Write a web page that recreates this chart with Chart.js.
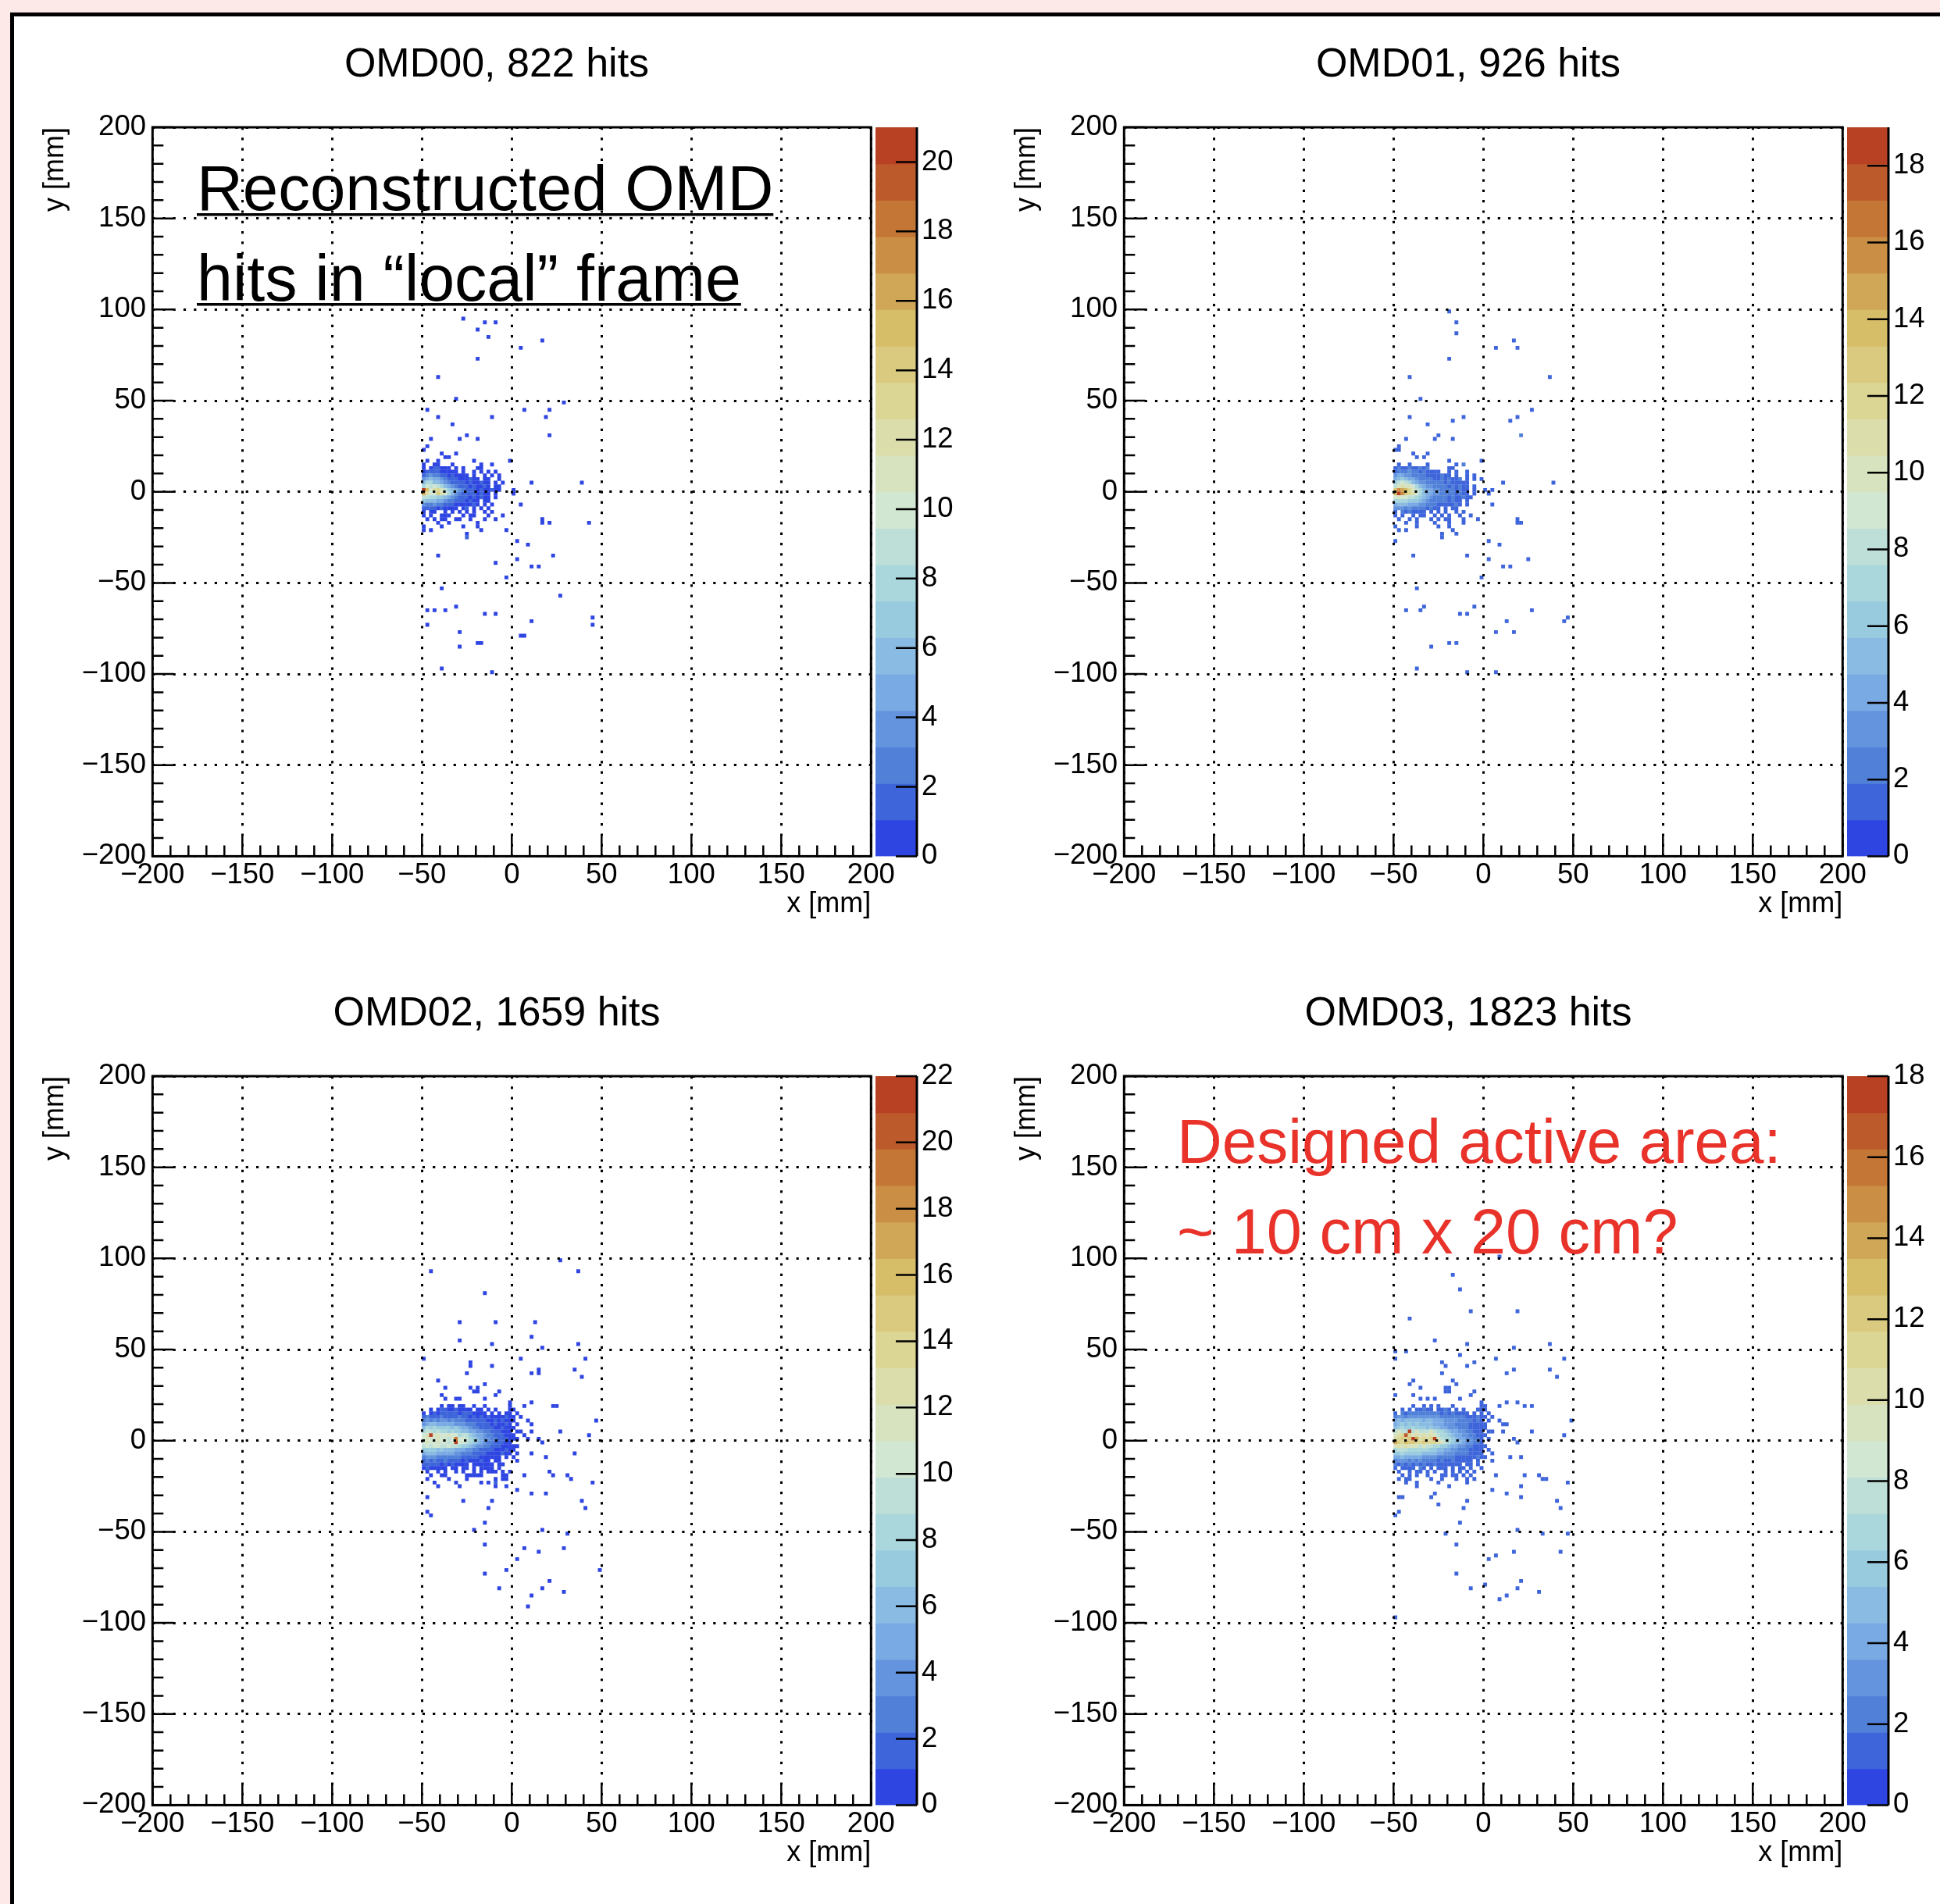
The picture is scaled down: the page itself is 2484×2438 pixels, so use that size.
<!DOCTYPE html>
<html>
<head>
<meta charset="utf-8">
<script src="https://cdn.jsdelivr.net/npm/chart.js@4.4.1/dist/chart.umd.min.js"></script>
<style>
  html, body { margin: 0; padding: 0; width: 2484px; height: 2438px; overflow: hidden; background: #fdeae8; }
  #frame { position: absolute; left: 13px; top: 16px; width: 2700px; height: 2700px; background: #fff;
           border-left: 5px solid #000; border-top: 5px solid #000; }
  canvas { position: absolute; }
</style>
</head>
<body>
<div id="frame"></div>
<canvas id="c0" width="1244" height="1215" style="left:14px;top:20px"></canvas>
<canvas id="c1" width="1244" height="1215" style="left:1258px;top:20px"></canvas>
<canvas id="c2" width="1244" height="1215" style="left:14px;top:1235px"></canvas>
<canvas id="c3" width="1244" height="1215" style="left:1258px;top:1235px"></canvas>
<script>
// Hit maps of the four OMD planes, 2 mm x 2 mm bins.
// Core of each map: one string per row of bins, x bin centres from -49 to -1,
// first row at gridTops[i], next rows 2 mm lower. '.' = empty, 1-9, a=10 ... m=22.
// Scattered bins outside the core are listed as [x, y] (one hit) or [x, y, n].

const detNames = ['OMD00', 'OMD01', 'OMD02', 'OMD03'];
const hitTotals = [822, 926, 1659, 1823];
const zMax = [21, 19, 22, 18];
const gridTops = [15, 15, 21, 21];
const gridLeft = -49;
const axisTicks = [-200, -150, -100, -50, 0, 50, 100, 150, 200];

const core00 = [
  '1..11...1.......1..1.....',
  '1.122111.1.1...11........',
  '1222211111.1..1.1.1.1....',
  '2343322121111.1..1.1.1...',
  '4565543222111211.11..1...',
  '6886654322221211211.1.1..',
  '8a9a986543222121121.11...',
  'lfacdb9765432221211211...',
  'gcaaeca864322221211.1....',
  '9988776543222121211.1....',
  '7666554332221211.11......',
  '4334332221111121.1.1.....',
  '2222121111.12.1.1.1......',
  '1.11..1.1.1.1.1..1.1.....',
  '1.1..111...1.11...1...1..',
  '.1.1.11..11..1...1..1....',
  '....1..1.......1.........',
  '1....1.....1...1.........',
  '1.1.............1......1.',
  '............1............',
  '............2............'
];
const hits00 = [
  [-27,95],[-15,93],[-9,93],[-19,89],[-13,85],[17,83],[5,79],[-19,73],[-41,63],[-31,51],
  [29,49],[-47,45],[7,45],[21,45],[-41,41],[-11,41],[19,41],[-33,37],[-25,31],[21,31],
  [-45,29],[-29,29],[-19,29],[-47,25],[-49,23],[-39,21],[-31,21],[-37,19],[-35,19],[-47,17],
  [-41,17],[-21,17],[-1,17],[11,5],[39,5],[1,1],[1,-1],[5,-7],[17,-15],[17,-17],
  [21,-17],[43,-17],[3,-27],[9,-29],[23,-35],[-41,-35],[3,-37],[-9,-39],[11,-41],[15,-41],
  [-3,-47],[-39,-53],[27,-57],[-31,-63],[-47,-65],[-43,-65],[-37,-65],[-15,-67],[-9,-67],[45,-69],
  [11,-71],[-47,-73],[45,-73],[-29,-77],[5,-79],[7,-79],[-19,-83],[-17,-83],[-29,-85],[-39,-97],
  [-11,-99]
];

const core01 = [
  '.1..1....1.......1.2.....',
  '1211211212.....11........',
  '1222322121111..1.1..1....',
  '3443322221111211.1..1.1..',
  '4565443222211212112.1.1.1',
  '689875433222221211111....',
  '8abaa9754332222121211.1..',
  'dgfeca875443322221211.1..',
  'ejgdcb975443322221211.1..',
  '9a99887654322221211211...',
  '7777666543222221211.1....',
  '4555444332221111121.1....',
  '3332322221211.1.11.......',
  '1.2121111.1.1.1..1.1.....',
  '1.1..1.11..1.1.1..1..1...',
  '.1..1.1...1.1.11...1...1.',
  '...1..1....1...1...1.....',
  '1.....1.....1..1.........',
  '.1.1............1........',
  '.............1...1.......',
  '.............1...........'
];
const hits01 = [
  [-19,99],[-15,93],[-15,87],[-19,73],[7,79],[17,83],[19,79],[-41,63],[37,63],[-35,51],
  [27,45],[-41,41],[-11,41],[-17,39],[19,41],[15,39],[-31,37],[21,31,2],[-43,29],[-27,29],
  [-25,31],[-17,29],[-47,25],[-49,23],[-47,23],[-39,21],[-31,21],[-37,19],[-33,19],[-1,17],
  [-19,17],[11,5],[39,5],[1,1],[5,1],[3,-1],[5,-7],[19,-15],[19,-17],[21,-17],
  [-49,-27],[3,-27],[9,-29],[-39,-35],[-9,-35],[3,-37],[25,-37],[11,-41],[15,-41],[-1,-47],
  [-37,-53],[27,-65],[-43,-65],[-35,-65],[-33,-63],[-5,-63],[-13,-67],[-9,-67],[13,-71],[47,-69],
  [45,-71],[7,-77],[17,-77],[-29,-85],[-19,-83],[-15,-83],[-37,-97],[-9,-99],[7,-99]
];

const core02 = [
  '........................1',
  '.....1.11.11..1..1......1',
  '..1.1221121111.11.1.1...1',
  '1.1212222212221111.1.1.11',
  '2322232222322121212111121',
  '3434344343332222221121211',
  '4566555554443332222121121',
  '6878777767655433222211211',
  '8998988787766554433222111',
  'acmcbaabaa899765543322211',
  'abaabaa9ajaa9876544332221',
  'abaabaa9alaa9876543322211',
  '9a9aa99a99877654433222111',
  '7777676665554433222211121',
  '5666555554433322221111211',
  '3444333333322222111111.1.',
  '2323223222212111211.11...',
  '2222212121111.111111.11..',
  '1211111.11.11.1.1111.1...',
  '.1..1.1..1.1..1.1.111.1.1',
  '..1..11.....11111.....11.',
  '.1.....1....1.......1.11.',
  '...1.....1......1.1.2....',
  '....1.....1.........1..1.'
];
const hits02 = [
  [-45,93],[27,99],[37,93],[-15,81],[-9,65],[-29,65],[13,65],[11,57],[-29,55],[-11,53],
  [37,53],[17,51],[-49,45],[5,45],[41,45],[-23,43],[-23,41],[-11,41],[15,39],[15,37],
  [11,37],[35,39],[39,35],[-25,37],[-41,33],[-15,31],[-37,29],[-23,29],[-19,29],[-21,27],
  [-19,27],[-7,27],[-9,25],[-39,25],[-37,23],[-31,23],[-29,23],[-15,23],[11,21],[7,19],
  [23,19],[25,19],[47,11],[27,5],[43,3],[3,15],[5,13],[9,11],[11,9],[3,9],
  [3,5],[7,3],[11,5],[15,1],[17,-1],[3,-7],[11,-7],[19,-9],[35,-7],[3,-11],
  [7,-19],[21,-17],[23,-19],[31,-19],[33,-21],[45,-23],[3,-27],[11,-29],[19,-29],[39,-33],
  [41,-37],[-47,-31],[-47,-39],[-45,-41],[-27,-33],[-11,-33],[-13,-37],[-15,-45],[-21,-49],[17,-49],
  [31,-51],[-15,-57],[7,-59],[15,-61],[29,-59],[3,-65],[49,-71],[-3,-71],[-15,-73],[21,-77],
  [-7,-81],[17,-81],[29,-83],[11,-85],[9,-91],[1,17],[1,13],[1,11],[1,7],[1,3],
  [1,1],[3,1],[1,-3],[1,-5],[3,-3],[1,-9],[5,5],[9,1]
];

const core03 = [
  '........................1',
  '.....1..1.1.1...1.......1',
  '..1.1.11211.1121.1.1...11',
  '1.2122222222212121111.1.1',
  '2332333333333222222211121',
  '4545555545544433332222121',
  '4565656555544433322221111',
  '5676676665655443332221111',
  '8988i89888987765443322111',
  '9abhb9a9a9a98776544332211',
  'abcbcieababi9877654433221',
  'ecbdccbbcbbba987655433221',
  '9a9a999898877665443322111',
  '7888777777665544332221111',
  '6676666655554433322221111',
  '4454444433332222211111121',
  '2333232322221211211111.1.',
  '2121212121121111111.11.1.',
  '1.1111.21.1.111.1.11.1..1',
  '.1..1.11.1.1..1.1.1.1.1..',
  '..1.1.1..1...11.11.1.1...',
  '.1.11.....1..1...1..1.1..',
  '...1..1.....1.......1....',
  '......1........1.........'
];
const hits03 = [
  [9,101],[-17,91],[-13,83],[-41,67],[-7,71],[19,71],[-27,55],[-9,53],[37,53],[17,51],
  [-49,49],[-43,49],[-13,47],[-49,45],[7,45],[45,45],[-23,43],[-21,41],[-9,41],[-5,43],
  [17,39],[13,37],[37,39],[41,35],[-23,37],[-39,33],[-41,31],[-17,33],[-15,31],[-35,29],
  [-21,29],[-19,29],[-21,27],[-19,27],[-49,25],[-39,25],[-5,27],[-7,25],[-35,23],[-31,23],
  [-27,23],[-13,23],[13,21],[19,21],[9,19],[23,19],[27,19],[49,11],[27,5],[45,3],
  [5,13],[9,11],[11,9],[13,9],[5,5],[11,5],[17,1],[19,-1],[5,-7],[15,-9],
  [21,-9],[5,-11],[7,-19],[23,-19],[31,-19],[33,-21],[35,-21],[47,-23],[5,-27],[13,-29],
  [21,-25],[21,-31],[41,-33],[43,-37],[-47,-31],[-45,-31],[-47,-39],[-49,-41],[-27,-29],[-29,-31],
  [-9,-33],[-25,-35],[-11,-37],[-13,-45],[-21,-51],[-15,-57],[19,-49],[33,-51],[47,-51],[17,-61],
  [7,-63],[3,-65],[43,-61],[-15,-73],[-7,-81],[1,-79],[21,-77],[19,-81],[31,-83],[9,-87],
  [13,-85],[-49,-97],[1,19],[1,17],[3,15],[1,13],[3,11],[1,9],[1,7],[3,5],
  [1,3],[3,1],[1,-3],[3,-5],[1,-9]
];

const cores = [core00, core01, core02, core03];
const scattered = [hits00, hits01, hits02, hits03];

// light temperature palette (9 stops), sampled like a 20-level contour fill
const paletteStops = [
  [31, 40, 234], [71, 117, 214], [123, 171, 228], [160, 211, 222], [210, 231, 210],
  [222, 220, 160], [214, 190, 105], [199, 132, 60], [183, 65, 34]
];
const nLevels = 20;

function paletteAt(t) {
  const p = Math.max(0, Math.min(1, t)) * (paletteStops.length - 1);
  const k = Math.min(paletteStops.length - 2, Math.floor(p));
  const f = p - k;
  const a = paletteStops[k], b = paletteStops[k + 1];
  const ch = i => Math.round(a[i] + (b[i] - a[i]) * f);
  return `rgb(${ch(0)}, ${ch(1)}, ${ch(2)})`;
}

function levelColor(level) {
  const idx = Math.floor((level + 0.99) * 255 / nLevels);
  return paletteAt(idx / 254);
}

function countColor(c, zmax) {
  return levelColor(Math.min(nLevels - 1, Math.floor(c / zmax * nLevels)));
}

function buildCells(rows, yTop, hits) {
  const out = [];
  rows.forEach((row, r) => {
    for (let k = 0; k < row.length; k++) {
      const c = parseInt(row[k], 36);
      if (c > 0) out.push({x: gridLeft + 2 * k, y: yTop - 2 * r, c: c});
    }
  });
  hits.forEach(h => out.push({x: h[0], y: h[1], c: h[2] || 1}));
  return out;
}

const FONT = '"Liberation Sans", Arial, Helvetica, sans-serif';
Chart.defaults.font.family = FONT;
Chart.defaults.color = '#000';

function tickText(v) {
  return v < 0 ? '\u2212' + Math.abs(v) : String(v);
}

// frame, inner ticks, colour bar and text boxes
const omdFrame = {
  id: 'omdFrame',
  afterDraw(chart, args, opts) {
    const {ctx, chartArea: a, scales} = chart;
    ctx.save();
    ctx.strokeStyle = '#000';
    ctx.lineWidth = 2.5;
    ctx.beginPath();
    for (let v = -200; v <= 200; v += 10) {
      const len = v % 50 === 0 ? 27 : 14;
      const px = scales.x.getPixelForValue(v);
      ctx.moveTo(px, a.bottom);
      ctx.lineTo(px, a.bottom - len);
      const py = scales.y.getPixelForValue(v);
      ctx.moveTo(a.left, py);
      ctx.lineTo(a.left + len, py);
    }
    ctx.stroke();
    ctx.lineWidth = 3;
    ctx.strokeRect(a.left, a.top, a.right - a.left, a.bottom - a.top);

    // colour bar
    const cb = scales.cb;
    const x0 = a.right + 5.7, x1 = a.right + 58.7;
    for (let b = 0; b < nLevels; b++) {
      const yLo = cb.getPixelForValue(b * opts.zmax / nLevels);
      const yHi = cb.getPixelForValue((b + 1) * opts.zmax / nLevels);
      ctx.fillStyle = levelColor(b);
      ctx.fillRect(x0, yHi, x1 - x0, yLo - yHi + (b ? 0.6 : 0));
    }
    ctx.lineWidth = 2.5;
    ctx.beginPath();
    cb.ticks.forEach(t => {
      const py = cb.getPixelForValue(t.value);
      ctx.moveTo(x1, py);
      ctx.lineTo(x1 - 27, py);
    });
    ctx.stroke();
    ctx.lineWidth = 3;
    ctx.beginPath();
    ctx.moveTo(x1, a.top);
    ctx.lineTo(x1, a.bottom);
    ctx.stroke();

    (opts.notes || []).forEach(n => {
      ctx.font = `${n.size}px ${FONT}`;
      ctx.fillStyle = n.color;
      ctx.textAlign = 'left';
      ctx.textBaseline = 'alphabetic';
      ctx.fillText(n.text, n.x, n.y);
      if (n.underline) {
        const w = ctx.measureText(n.text).width;
        ctx.fillRect(n.x, n.y + n.underline, w, 3.5);
      }
    });
    ctx.restore();
  }
};

const panelNotes = [
  [
    {text: 'Reconstructed OMD', x: 238, y: 249, size: 81.5, color: '#000', underline: 4},
    {text: 'hits in \u201clocal\u201d frame', x: 238, y: 365, size: 82.5, color: '#000', underline: 3}
  ],
  [],
  [],
  [
    {text: 'Designed active area:', x: 249, y: 254, size: 80, color: '#e8322a'},
    {text: '~ 10 cm x 20 cm?', x: 249, y: 370, size: 81, color: '#e8322a'}
  ]
];

function axisOptions(pos, title, fitSize, pad, titlePad) {
  return {
    type: 'linear',
    position: pos,
    min: -200,
    max: 200,
    afterBuildTicks: s => { s.ticks = axisTicks.map(v => ({value: v})); },
    afterFit: s => {
      if (pos === 'left') s.width = fitSize; else s.height = fitSize;
    },
    grid: { color: '#000', lineWidth: 3, drawTicks: false, z: 1 },
    border: { display: false, dash: [3.2, 10.1] },
    ticks: {
      font: { size: 36.5 },
      color: '#000',
      padding: pad,
      maxRotation: 0,
      autoSkip: false,
      callback: v => tickText(v)
    },
    title: {
      display: true,
      text: title,
      align: 'end',
      font: { size: 36 },
      color: '#000',
      padding: titlePad
    }
  };
}

function buildPanel(i) {
  const zmax = zMax[i];
  const cells = buildCells(cores[i], gridTops[i], scattered[i]);
  new Chart(document.getElementById('c' + i), {
    type: 'scatter',
    data: {
      datasets: [{
        data: cells,
        pointStyle: 'rect',
        pointBorderWidth: 0,
        pointRadius: ctx => {
          const sx = ctx.chart.scales.x;
          const w = Math.abs(sx.getPixelForValue(2) - sx.getPixelForValue(0));
          return (w + 0.3) / 2 / Math.SQRT1_2;
        },
        pointBackgroundColor: ctx => ctx.raw ? countColor(ctx.raw.c, zmax) : '#000'
      }]
    },
    options: {
      responsive: false,
      animation: false,
      events: [],
      layout: { padding: 0 },
      plugins: {
        legend: { display: false },
        tooltip: { enabled: false },
        title: {
          display: true,
          text: `${detNames[i]}, ${hitTotals[i]} hits`,
          font: { size: 52, weight: 'normal' },
          color: '#000',
          padding: { top: 32.8, bottom: 47.8 }
        },
        omdFrame: { zmax: zmax, notes: panelNotes[i] }
      },
      scales: {
        x: axisOptions('bottom', 'x [mm]', 138.6, 3, { top: 0, bottom: 55.4 }),
        y: axisOptions('left', 'y [mm]', 181.3, 8.3, { top: 35.4, bottom: 0 }),
        cb: {
          type: 'linear',
          axis: 'y',
          position: 'right',
          min: 0,
          max: zmax,
          ticks: {
            stepSize: 2,
            font: { size: 36.5 },
            color: '#000',
            padding: 64.7
          },
          afterBuildTicks: s => { s.ticks = s.ticks.filter(t => t.value % 2 === 0); },
          afterFit: s => { s.width = 142.7; },
          grid: { display: false, drawTicks: false },
          border: { display: false }
        }
      }
    },
    plugins: [omdFrame]
  });
}

for (let i = 0; i < 4; i++) buildPanel(i);
</script>
</body>
</html>
